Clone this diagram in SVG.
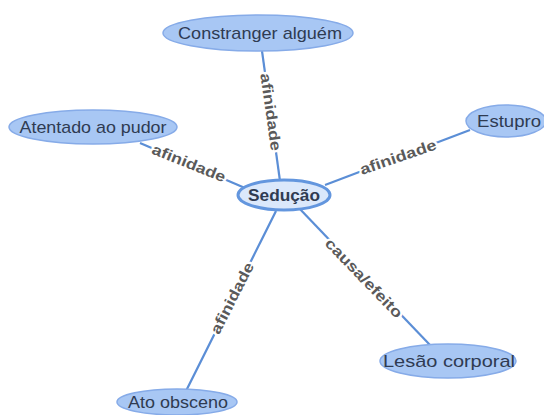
<svg xmlns="http://www.w3.org/2000/svg" width="544" height="415" viewBox="0 0 544 415">
  <style>
    .node ellipse { fill: #a8c7f4; stroke: #86abe8; stroke-width: 1.5; }
    .node text { font-family: "Liberation Sans", Arial, sans-serif; font-size: 17px; fill: #2f3b52; text-anchor: middle; }
    #n-seducao ellipse { fill: #dbe8fb; stroke: #6396de; stroke-width: 3; }
    #n-seducao text { font-weight: bold; }
    .links line { stroke: #5b8ed6; stroke-width: 2.2; }
    .links text { font-family: "Liberation Sans", Arial, sans-serif; font-size: 15px; font-weight: bold; fill: #5a5a5a; text-anchor: middle; stroke: #ffffff; stroke-width: 4; paint-order: stroke; stroke-linejoin: round; }
  </style>
  <rect width="544" height="415" fill="#ffffff"/>

  <g class="links">
    <line x1="262" y1="51" x2="280" y2="181"/>
    <line x1="140" y1="143" x2="245" y2="188"/>
    <line x1="470" y1="130" x2="325" y2="185"/>
    <line x1="276" y1="211" x2="186" y2="391"/>
    <line x1="298" y1="207" x2="430" y2="345"/>
    <text transform="translate(271,112) rotate(82)" dy="0.35em" textLength="78" lengthAdjust="spacingAndGlyphs">afinidade</text>
    <text transform="translate(189,163) rotate(22)" dy="0.35em" textLength="78" lengthAdjust="spacingAndGlyphs">afinidade</text>
    <text transform="translate(398,157) rotate(-19)" dy="0.35em" textLength="80" lengthAdjust="spacingAndGlyphs">afinidade</text>
    <text transform="translate(232,298) rotate(-63)" dy="0.35em" textLength="78" lengthAdjust="spacingAndGlyphs">afinidade</text>
    <text transform="translate(364,278) rotate(46)" dy="0.35em" textLength="104" lengthAdjust="spacingAndGlyphs">causa/efeito</text>
  </g>

  <g id="n-constranger" class="node">
    <ellipse cx="258" cy="33" rx="95" ry="18"/>
    <text x="260" y="39" textLength="164" lengthAdjust="spacingAndGlyphs">Constranger alguém</text>
  </g>
  <g id="n-atentado" class="node">
    <ellipse cx="93" cy="127" rx="84" ry="17"/>
    <text x="93" y="133" textLength="147" lengthAdjust="spacingAndGlyphs">Atentado ao pudor</text>
  </g>
  <g id="n-estupro" class="node">
    <ellipse cx="506" cy="121" rx="40" ry="16"/>
    <text x="509" y="127" textLength="64" lengthAdjust="spacingAndGlyphs">Estupro</text>
  </g>
  <g id="n-seducao" class="node">
    <ellipse cx="284" cy="195" rx="46" ry="15"/>
    <text x="284" y="201" textLength="72" lengthAdjust="spacingAndGlyphs">Sedução</text>
  </g>
  <g id="n-ato" class="node">
    <ellipse cx="177" cy="402" rx="60" ry="13"/>
    <text x="178" y="408" textLength="100" lengthAdjust="spacingAndGlyphs">Ato obsceno</text>
  </g>
  <g id="n-lesao" class="node">
    <ellipse cx="448" cy="361" rx="68" ry="17"/>
    <text x="449" y="367" textLength="132" lengthAdjust="spacingAndGlyphs">Lesão corporal</text>
  </g>
</svg>
